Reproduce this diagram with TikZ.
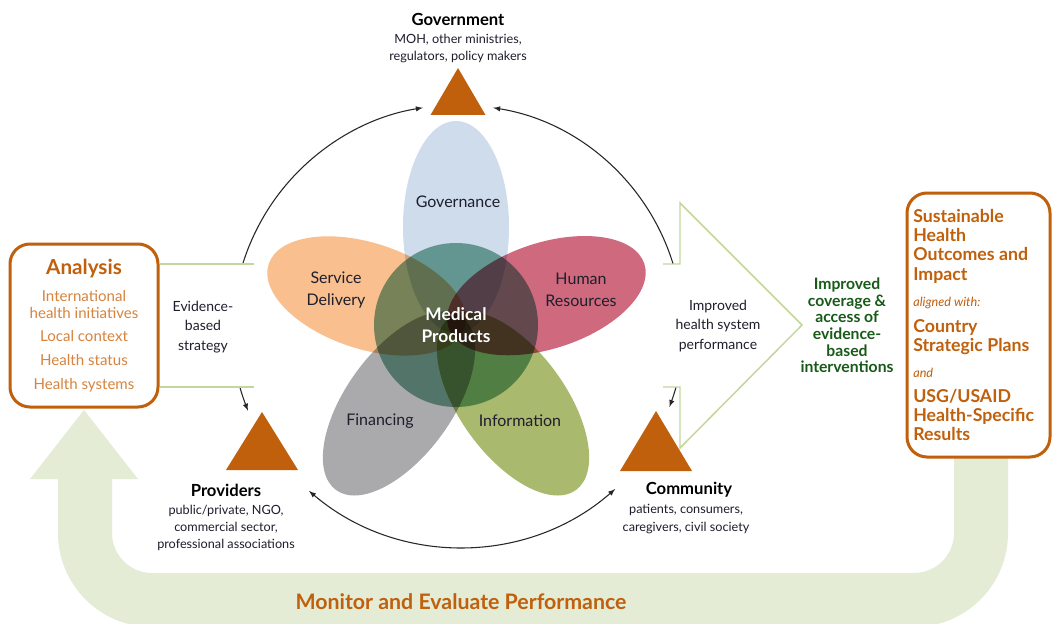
\documentclass[tikz,border=0pt]{standalone}
\usepackage{fontspec}
\setmainfont{Lato}
\usetikzlibrary{calc}
\usetikzlibrary{shapes,arrows}

\definecolor{rust}{RGB}{192,96,12}
\definecolor{lightrust}{RGB}{214,132,62}
\definecolor{paleband}{RGB}{228,236,214}
\definecolor{rimgreen}{RGB}{195,214,155}
\definecolor{deepgreen}{RGB}{24,90,24}
\definecolor{govblue}{RGB}{207,220,236}
\definecolor{servorange}{RGB}{249,191,143}
\definecolor{hrred}{RGB}{207,106,126}
\definecolor{infogreen}{RGB}{169,185,110}
\definecolor{fingray}{RGB}{170,170,172}
\definecolor{medteal}{RGB}{123,174,157}
\definecolor{inkdark}{RGB}{30,30,45}

\begin{document}
\begin{tikzpicture}[x=0.75pt, y=-0.75pt,
    rim/.style={draw=rimgreen, line width=1.1pt},
    tri/.style={fill=rust},
    link/.style={draw=black!85, line width=0.8pt},
    petal/.style={blend mode=multiply},
    panel/.style={draw=rust, line width=2.25pt, rounded corners=15pt, fill=white},
    headtext/.style={font=\fontsize{12.5}{15}\selectfont\bfseries, text=black},
    subtext/.style={font=\fontsize{9.5}{13}\selectfont, align=center, text=inkdark},
    petaltext/.style={font=\fontsize{12}{16.5}\selectfont, align=center, text=inkdark},
    plaintext/.style={font=\fontsize{10.5}{14.6}\selectfont, align=center, text=inkdark}
  ]
    \path[use as bounding box, fill=white] (0,0) rectangle (1052,624);

    \coordinate (hub) at (456,325);
    \coordinate (ring) at (458,330);
    \coordinate (low ring) at (461,313);
    \coordinate (gov) at (458,68);
    \coordinate (prov) at (262,412);
    \coordinate (comm) at (656,411);
    \coordinate (prov end) at ($(ring)+(159:225)$);
    \coordinate (gov right) at ($(ring)+(279:225)$);
    \coordinate (comm low) at ($(low ring)+(48.8:234)$);
    \coordinate (p gov) at ($(hub)+(-90:98)$);
    \coordinate (p hr) at ($(hub)+(-18:95)$);
    \coordinate (p info) at ($(hub)+(54:97)$);
    \coordinate (p fin) at ($(hub)+(126:97)$);
    \coordinate (p serv) at ($(hub)+(198:94)$);

    \fill[paleband] (84,410) -- (138,479) -- (112,479) -- (112,533)
      arc[start angle=180, end angle=90, radius=40] -- (914,573)
      arc[start angle=90, end angle=0, radius=40] -- (954,440) -- (1008,440) -- (1008,533)
      arc[start angle=0, end angle=90, radius=94] -- (152,627)
      arc[start angle=90, end angle=180, radius=94] -- (58,479) -- (30,479) -- cycle;

    \draw[link, latex-latex] (prov end) arc[start angle=159, end angle=261, radius=225];
    \draw[link, latex-latex] (gov right) arc[start angle=279, end angle=380, radius=225];
    \draw[link, latex-latex] (comm low) arc[start angle=48.8, end angle=130.5, radius=234];

    \fill[white] (160,264) rectangle (258,387);
    \draw[rim] (160,264) -- (254,264);
    \draw[rim] (160,387) -- (254,387);
    \filldraw[rim, fill=white] (663,264) -- (680,264) -- (680,203) -- (802,325)
      -- (680,448) -- (680,387) -- (663,387);

    \fill[govblue, petal, rotate around={90:(p gov)}] (p gov) ellipse[x radius=106, y radius=53];
    \fill[servorange, petal, rotate around={162:(p serv)}] (p serv) ellipse[x radius=103, y radius=53];
    \fill[hrred, petal, rotate around={18:(p hr)}] (p hr) ellipse[x radius=103, y radius=53];
    \fill[fingray, petal, rotate around={-126:(p fin)}] (p fin) ellipse[x radius=107, y radius=53];
    \fill[infogreen, petal, rotate around={-54:(p info)}] (p info) ellipse[x radius=107, y radius=53];
    \fill[medteal, petal] (hub) circle[radius=82];

    \fill[tri] (gov) -- ++(27.5,47) -- ++(-55,0) -- cycle;
    \fill[tri] (prov) -- ++(36,58) -- ++(-72,0) -- cycle;
    \fill[tri] (comm) -- ++(36,60) -- ++(-72,0) -- cycle;

    \node [petaltext] (governance) at (458,202) {Governance};
    \node [petaltext] (service) at (336,290) {Service\\Delivery};
    \node [petaltext] (human) at (581,290) {Human\\Resources};
    \node [petaltext] (financing) at (380,421) {Financing};
    \node [petaltext] (information) at (520,421) {Information};
    \node [font=\fontsize{13}{16.5}\selectfont\bfseries, align=center, text=white] (medical) at (456,325) {Medical\\Products};

    \node [headtext] (govname) at (458,19) {Government};
    \node [subtext] (govsub) at (458,48.5) {MOH, other ministries,\\regulators, policy makers};
    \node [headtext] (provname) at (226,490) {Providers};
    \node [subtext] (provsub) at (226,528) {public/private, NGO,\\commercial sector,\\professional associations};
    \node [headtext] (commname) at (689,490) {Community};
    \node [subtext] (commsub) at (686,519) {patients, consumers,\\caregivers, civil society};

    \node [plaintext] (evidence) at (203,327) {Evidence-\\based\\strategy};
    \node [plaintext] (performance) at (718,326) {Improved\\health system\\performance};
    \node [font=\fontsize{11.8}{12.5}\selectfont\bfseries, align=center, text=deepgreen] (coverage) at (847,325.5)
      {Improved\\coverage \&\\access of\\evidence-\\based\\interventions};

    \node [panel, minimum width=111pt, minimum height=122.25pt, align=center,
      font=\fontsize{11.3}{12.75}\selectfont, text=lightrust] (analysis) at (84,325.5)
      {{\fontsize{15.5}{16}\selectfont\bfseries\color{rust}Analysis}\\[7pt]
       International\\health initiatives\\[5pt]Local context\\[5pt]Health status\\[5pt]Health systems};

    \node [panel, minimum width=107.25pt, minimum height=198pt] (outcomes) at (978.5,325) {};
    \node [anchor=west, align=left, inner sep=0pt, font=\fontsize{13.3}{14.5}\selectfont\bfseries, text=rust] (outcometext) at (913,325)
      {Sustainable\\Health\\Outcomes and\\Impact\\[5pt]
       {\fontsize{9.5}{12}\selectfont\mdseries\itshape aligned with:}\\[5pt]
       Country\\Strategic Plans\\[5pt]
       {\fontsize{9.5}{12}\selectfont\mdseries\itshape and}\\[4pt]
       USG/USAID\\Health-Specific\\Results};

    \node [font=\fontsize{16}{18}\selectfont\bfseries, text=rust] (monitor) at (461,602) {Monitor and Evaluate Performance};
\end{tikzpicture}
\end{document}
